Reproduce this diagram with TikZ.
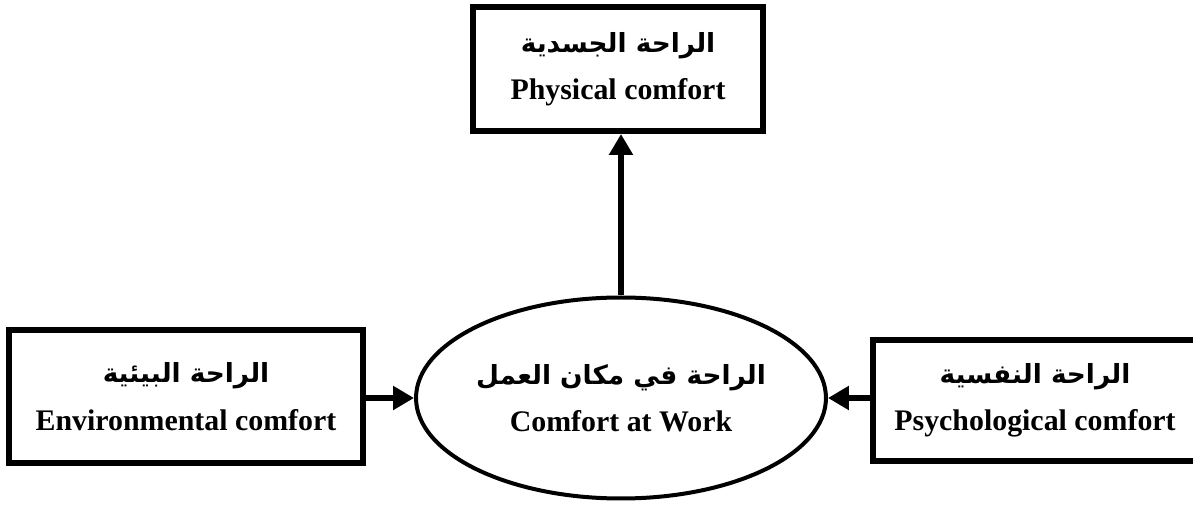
\documentclass[tikz,border=0pt]{standalone}
\usepackage{fontspec}
\setmainfont{Liberation Serif}
\newfontfamily\arabicfont[Script=Arabic]{DejaVu Sans}
\TeXXeTstate=1
\usetikzlibrary{shapes.geometric,arrows.meta}
\newcommand{\arline}[1]{{\arabicfont\bfseries\fontsize{15}{17}\selectfont\beginR #1\endR}}

\begin{document}
\begin{tikzpicture}[
    box/.style={draw, line width=0.12cm, align=center, font=\fontsize{17}{20}\selectfont\bfseries},
    oval/.style={draw, ellipse, inner sep=0pt, line width=0.08cm, align=center, font=\fontsize{17}{20}\selectfont\bfseries},
    link/.style={line width=0.12cm, -{Triangle[length=0.42cm,width=0.46cm]}}]
    \useasboundingbox (0,0) rectangle (23.86,10.1);
    % The four parts
    \node[box, minimum width=5.8cm, minimum height=2.48cm] (phys) at (12.36,8.72)
        {\arline{الراحة الجسدية}\\[7pt] Physical comfort};
    \node[oval, minimum width=8.1cm, minimum height=4.02cm] (work) at (12.42,2.14)
        {\arline{الراحة في مكان العمل}\\[7pt] Comfort at Work};
    \node[box, minimum width=7.08cm, minimum height=2.66cm] (env) at (3.72,2.17)
        {\arline{الراحة البيئية}\\[7pt] Environmental comfort};
    \node[box, minimum width=6.48cm, minimum height=2.42cm] (psy) at (20.7,2.09)
        {\arline{الراحة النفسية}\\[7pt] Psychological comfort};
    % Arrows
    \draw[link] (work.north) -- (work.north |- phys.south);
    \draw[link] (env.east |- work.west) -- (work.west);
    \draw[link] (psy.west |- work.east) -- (work.east);
\end{tikzpicture}
\end{document}
